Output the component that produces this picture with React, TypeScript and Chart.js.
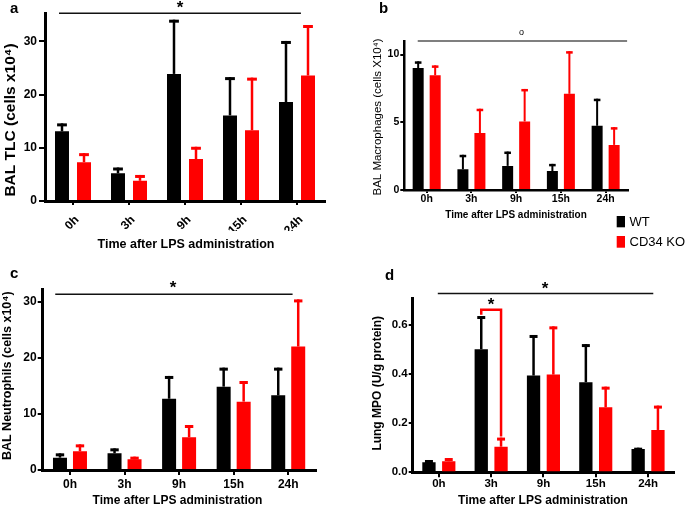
import React, { useEffect, useRef } from "react";
import { Chart, registerables } from "chart.js";
Chart.register(...registerables);

const FONT = "'Liberation Sans', Arial, Helvetica, sans-serif";

const times = ["0h", "3h", "9h", "15h", "24h"];
const seriesNames = ["WT", "CD34 KO"];
const seriesColors = ["#000000", "#ff0000"];

// Panel a: BAL TLC (cells x10^4) — mean and upper error (mean + SD)
const tlcWT = [13.1, 5.2, 23.9, 16.1, 18.6];
const tlcWTUpper = [14.6, 6.3, 34.1, 23.3, 30.1];
const tlcKO = [7.3, 3.8, 7.9, 13.3, 23.6];
const tlcKOUpper = [9.0, 4.9, 10.2, 23.2, 33.1];

// Panel b: BAL Macrophages (cells X10^4)
const macWT = [9.0, 1.53, 1.78, 1.4, 4.74];
const macWTUpper = [9.5, 2.6, 2.84, 1.93, 6.74];
const macKO = [8.47, 4.2, 5.06, 7.1, 3.33];
const macKOUpper = [9.2, 6.0, 7.46, 10.25, 4.64];

// Panel c: BAL Neutrophils (cells x10^4)
const neuWT = [2.2, 2.97, 12.7, 14.85, 13.3];
const neuWTUpper = [2.97, 3.86, 16.76, 18.24, 18.24];
const neuKO = [3.33, 1.9, 5.82, 12.18, 22.0];
const neuKOUpper = [4.57, 2.38, 8.02, 15.86, 30.4];

// Panel d: Lung MPO (U/g protein)
const mpoWT = [0.041, 0.5, 0.393, 0.366, 0.095];
const mpoWTUpper = [0.05, 0.635, 0.558, 0.521, 0.1];
const mpoKO = [0.045, 0.104, 0.397, 0.264, 0.172];
const mpoKOUpper = [0.058, 0.141, 0.593, 0.348, 0.271];

const W = 685;
const H = 507;
const Y_AXIS_W = 40;
const X_AXIS_H = 30;

type Panel = {
  letter: string;
  letterPos: [number, number];
  area: { l: number; t: number; r: number; b: number };
  means: number[][];
  uppers: number[][];
  yMax: number;
  yStep: number;
  decimals: number;
  yTitle: string;
  yTitlePos: [number, number];
  yTitleFont: string;
  xTitle: string;
  xTitlePos: [number, number];
  xTitleFont: string;
  yTickFont: { size: number; weight: string };
  xTickFont: { size: number; weight: string };
  rotate: boolean;
  yTickLen: number;
  yTickPad: number;
  xTickLen: number;
  xTickPad: number;
  xLabelOffset: number;
  borderW: number;
  cp: number;
  bp: number;
  errW: number;
  capFrac: number;
  capH: number;
  sig: { x0: number; x1: number; y: number; color: string; width: number; mark: string; markIdx: number; markVal: number; markFont: string };
  bracket?: { idx: number; top: number; leftTo: number; rightTo: number; markVal: number };
  legend?: boolean;
};

const panels: Panel[] = [
  {
    letter: "a",
    letterPos: [10, 13],
    area: { l: 45, t: 13.3, r: 325, b: 201 },
    means: [tlcWT, tlcKO],
    uppers: [tlcWTUpper, tlcKOUpper],
    yMax: 35.3,
    yStep: 10,
    decimals: 0,
    yTitle: "BAL TLC (cells x10\u2074)",
    yTitlePos: [11, 120],
    yTitleFont: `bold 15.5px ${FONT}`,
    xTitle: "Time after LPS administration",
    xTitlePos: [186, 245],
    xTitleFont: `bold 12.5px ${FONT}`,
    yTickFont: { size: 12, weight: "bold" },
    xTickFont: { size: 12, weight: "bold" },
    rotate: true,
    yTickLen: 6,
    yTickPad: 2,
    xTickLen: 4,
    xTickPad: 8,
    xLabelOffset: 4,
    borderW: 3,
    cp: 0.786,
    bp: 0.636,
    errW: 2.5,
    capFrac: 0.7,
    capH: 3,
    sig: { x0: -0.25, x1: 4.07, y: 35.3, color: "#111", width: 1.5, mark: "*", markIdx: 1.91, markVal: 36.9, markFont: `bold 17px ${FONT}` },
  },
  {
    letter: "b",
    letterPos: [379, 13.3],
    area: { l: 404.3, t: 41, r: 628, b: 190 },
    means: [macWT, macKO],
    uppers: [macWTUpper, macKOUpper],
    yMax: 11,
    yStep: 5,
    decimals: 0,
    yTitle: "BAL Macrophages (cells X10\u2074)",
    yTitlePos: [378, 117],
    yTitleFont: `11.5px ${FONT}`,
    xTitle: "Time after LPS administration",
    xTitlePos: [516, 215.5],
    xTitleFont: `bold 10px ${FONT}`,
    yTickFont: { size: 10.5, weight: "bold" },
    xTickFont: { size: 10.5, weight: "bold" },
    rotate: false,
    yTickLen: 4,
    yTickPad: 1,
    xTickLen: 3,
    xTickPad: 0,
    xLabelOffset: 0,
    borderW: 2.5,
    cp: 0.76,
    bp: 0.647,
    errW: 2,
    capFrac: 0.6,
    capH: 2.5,
    sig: { x0: -0.2, x1: 4.48, y: 11, color: "#555", width: 1.5, mark: "o", markIdx: 2.12, markVal: 11.6, markFont: `9px ${FONT}` },
    legend: true,
  },
  {
    letter: "c",
    letterPos: [10, 278.3],
    area: { l: 42.7, t: 289.3, r: 315.5, b: 470 },
    means: [neuWT, neuKO],
    uppers: [neuWTUpper, neuKOUpper],
    yMax: 32.2,
    yStep: 10,
    decimals: 0,
    yTitle: "BAL Neutrophils (cells x10\u2074)",
    yTitlePos: [8, 375.7],
    yTitleFont: `bold 12.5px ${FONT}`,
    xTitle: "Time after LPS administration",
    xTitlePos: [177.5, 500.5],
    xTitleFont: `bold 12px ${FONT}`,
    yTickFont: { size: 12, weight: "bold" },
    xTickFont: { size: 12, weight: "bold" },
    rotate: false,
    yTickLen: 5,
    yTickPad: 1,
    xTickLen: 5,
    xTickPad: 2,
    xLabelOffset: 0,
    borderW: 3,
    cp: 0.733,
    bp: 0.7,
    errW: 2.5,
    capFrac: 0.6,
    capH: 3,
    sig: { x0: -0.27, x1: 4.08, y: 31.3, color: "#111", width: 1.5, mark: "*", markIdx: 1.89, markVal: 33.0, markFont: `bold 17px ${FONT}` },
  },
  {
    letter: "d",
    letterPos: [385, 280],
    area: { l: 412.7, t: 298.3, r: 674.2, b: 472.3 },
    means: [mpoWT, mpoKO],
    uppers: [mpoWTUpper, mpoKOUpper],
    yMax: 0.707,
    yStep: 0.2,
    decimals: 1,
    yTitle: "Lung MPO (U/g protein)",
    yTitlePos: [378, 383.3],
    yTitleFont: `bold 12px ${FONT}`,
    xTitle: "Time after LPS administration",
    xTitlePos: [543, 500.5],
    xTitleFont: `bold 12px ${FONT}`,
    yTickFont: { size: 11.5, weight: "bold" },
    xTickFont: { size: 11.5, weight: "bold" },
    rotate: false,
    yTickLen: 4,
    yTickPad: 1,
    xTickLen: 5,
    xTickPad: 0,
    xLabelOffset: 0,
    borderW: 3,
    cp: 0.757,
    bp: 0.672,
    errW: 2.5,
    capFrac: 0.6,
    capH: 3,
    sig: { x0: -0.02, x1: 4.1, y: 0.727, color: "#111", width: 1.5, mark: "*", markIdx: 2.03, markVal: 0.761, markFont: `bold 17px ${FONT}` },
    bracket: { idx: 1, top: 0.66, leftTo: 0.64, rightTo: 0.145, markVal: 0.693 },
  },
];

function drawText(ctx: CanvasRenderingContext2D, s: string, x: number, y: number, font: string, opts: { align?: CanvasTextAlign; baseline?: CanvasTextBaseline; rot?: number; color?: string } = {}) {
  ctx.save();
  ctx.font = font;
  ctx.fillStyle = opts.color || "#000";
  ctx.textAlign = opts.align || "center";
  ctx.textBaseline = opts.baseline || "middle";
  ctx.translate(x, y);
  if (opts.rot) ctx.rotate(opts.rot);
  ctx.fillText(s, 0, 0);
  ctx.restore();
}

function starAt(ctx: CanvasRenderingContext2D, mark: string, x: number, y: number, font: string) {
  // center the glyph's ink on (x, y)
  ctx.save();
  ctx.font = font;
  const m = ctx.measureText(mark);
  const top = m.actualBoundingBoxAscent;
  const bot = m.actualBoundingBoxDescent;
  ctx.fillStyle = "#000";
  ctx.textAlign = "center";
  ctx.textBaseline = "alphabetic";
  ctx.fillText(mark, x, y + (top - bot) / 2);
  ctx.restore();
}

function buildConfig(p: Panel): any {
  const decor = {
    id: "decor" + p.letter,
    afterDatasetsDraw(chart: any) {
      const ctx: CanvasRenderingContext2D = chart.ctx;
      const ys = chart.scales.y;
      p.uppers.forEach((ups, di) => {
        const meta = chart.getDatasetMeta(di);
        ctx.save();
        ctx.strokeStyle = seriesColors[di];
        ctx.fillStyle = seriesColors[di];
        ctx.lineWidth = p.errW;
        meta.data.forEach((el: any, i: number) => {
          const yTop = ys.getPixelForValue(ups[i]);
          ctx.beginPath();
          ctx.moveTo(el.x, el.y);
          ctx.lineTo(el.x, yTop);
          ctx.stroke();
          const cw = el.width * p.capFrac;
          ctx.fillRect(el.x - cw / 2, yTop, cw, p.capH);
        });
        ctx.restore();
      });
    },
    afterDraw(chart: any) {
      const ctx: CanvasRenderingContext2D = chart.ctx;
      const xs = chart.scales.x;
      const ys = chart.scales.y;
      // panel letter
      drawText(ctx, p.letter, p.letterPos[0], p.letterPos[1], `bold 15px ${FONT}`, { align: "left", baseline: "alphabetic" });
      // axis titles
      drawText(ctx, p.yTitle, p.yTitlePos[0], p.yTitlePos[1], p.yTitleFont, { rot: -Math.PI / 2 });
      drawText(ctx, p.xTitle, p.xTitlePos[0], p.xTitlePos[1], p.xTitleFont);
      // significance line
      const s = p.sig;
      const sy = ys.getPixelForValue(s.y);
      ctx.save();
      ctx.strokeStyle = s.color;
      ctx.lineWidth = s.width;
      ctx.beginPath();
      ctx.moveTo(xs.getPixelForValue(s.x0), sy);
      ctx.lineTo(xs.getPixelForValue(s.x1), sy);
      ctx.stroke();
      ctx.restore();
      starAt(ctx, s.mark, xs.getPixelForValue(s.markIdx), ys.getPixelForValue(s.markVal), s.markFont);
      // bracket
      if (p.bracket) {
        const b = p.bracket;
        const xl = chart.getDatasetMeta(0).data[b.idx].x;
        const xr = chart.getDatasetMeta(1).data[b.idx].x;
        const yt = ys.getPixelForValue(b.top);
        ctx.save();
        ctx.strokeStyle = seriesColors[1];
        ctx.lineWidth = 2.5;
        ctx.lineJoin = "miter";
        ctx.beginPath();
        ctx.moveTo(xl, ys.getPixelForValue(b.leftTo));
        ctx.lineTo(xl, yt);
        ctx.lineTo(xr, yt);
        ctx.lineTo(xr, ys.getPixelForValue(b.rightTo));
        ctx.stroke();
        ctx.restore();
        starAt(ctx, "*", (xl + xr) / 2, ys.getPixelForValue(b.markVal), `bold 17px ${FONT}`);
      }
      // legend
      if (p.legend) {
        const rows: [number, number][] = [[216, 227.3], [236, 247.7]];
        seriesNames.forEach((name, i) => {
          ctx.save();
          ctx.fillStyle = seriesColors[i];
          ctx.fillRect(616.7, rows[i][0], 8.3, rows[i][1] - rows[i][0]);
          ctx.restore();
          drawText(ctx, name, 629.5, (rows[i][0] + rows[i][1]) / 2 + 0.5, `13px ${FONT}`, { align: "left" });
        });
      }
    },
  };

  return {
    type: "bar",
    data: {
      labels: times,
      datasets: p.means.map((m, i) => ({
        label: seriesNames[i],
        data: m,
        backgroundColor: seriesColors[i],
        borderWidth: 0,
        categoryPercentage: p.cp,
        barPercentage: p.bp,
      })),
    },
    options: {
      responsive: false,
      animation: false,
      devicePixelRatio: 1,
      layout: {
        padding: {
          left: p.area.l - Y_AXIS_W,
          top: p.area.t,
          right: W - p.area.r,
          bottom: H - p.area.b - X_AXIS_H,
        },
      },
      plugins: { legend: { display: false }, tooltip: { enabled: false }, title: { display: false } },
      scales: {
        x: {
          type: "category",
          offset: true,
          afterFit: (sc: any) => {
            sc.height = X_AXIS_H;
          },
          grid: { display: true, drawOnChartArea: false, drawTicks: true, tickLength: p.xTickLen, color: "#000", lineWidth: 2, offset: false },
          border: { display: true, color: "#000", width: p.borderW },
          ticks: {
            color: "#000",
            font: { family: FONT, size: p.xTickFont.size, weight: p.xTickFont.weight },
            padding: p.xTickPad,
            autoSkip: false,
            minRotation: p.rotate ? 45 : 0,
            maxRotation: p.rotate ? 45 : 0,
            labelOffset: p.xLabelOffset,
          },
        },
        y: {
          min: 0,
          max: p.yMax,
          afterFit: (sc: any) => {
            sc.width = Y_AXIS_W;
          },
          grid: { display: true, drawOnChartArea: false, drawTicks: true, tickLength: p.yTickLen, color: "#000", lineWidth: 2 },
          border: { display: true, color: "#000", width: p.borderW },
          ticks: {
            color: "#000",
            stepSize: p.yStep,
            includeBounds: false,
            padding: p.yTickPad,
            font: { family: FONT, size: p.yTickFont.size, weight: p.yTickFont.weight },
            callback: (v: any) => Number(v).toFixed(p.decimals),
          },
        },
      },
    },
    plugins: [decor],
  };
}

function PanelChart({ p }: { p: Panel }) {
  const ref = useRef<HTMLCanvasElement>(null);
  useEffect(() => {
    const chart = new Chart(ref.current as HTMLCanvasElement, buildConfig(p));
    return () => chart.destroy();
  }, []);
  return <canvas ref={ref} width={W} height={H} style={{ position: "absolute", left: 0, top: 0, width: W, height: H }} />;
}

export default function App() {
  return (
    <div style={{ position: "fixed", left: 0, top: 0, width: W, height: H, background: "#fff", overflow: "hidden" }}>
      {panels.map((p) => (
        <PanelChart key={p.letter} p={p} />
      ))}
    </div>
  );
}
